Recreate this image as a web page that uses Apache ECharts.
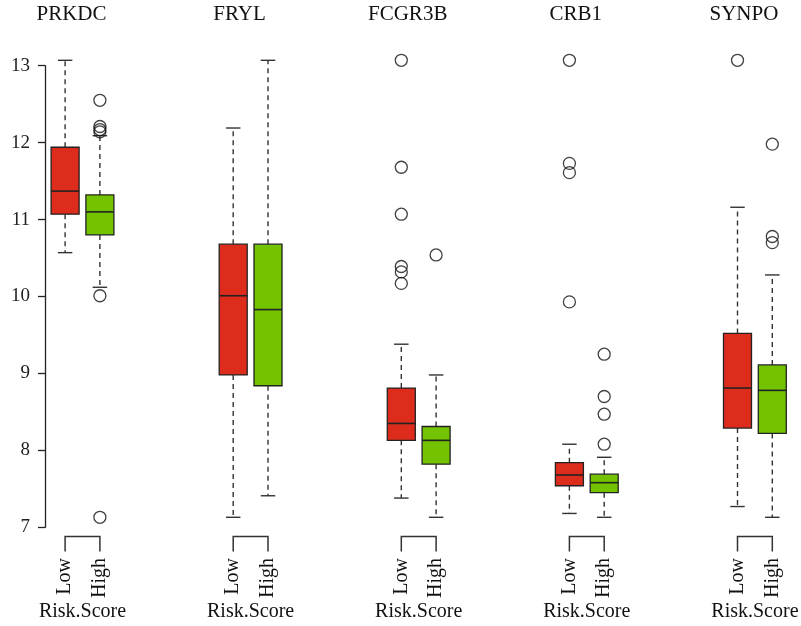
<!DOCTYPE html>
<html><head><meta charset="utf-8">
<script src="https://cdn.jsdelivr.net/npm/echarts@6/dist/echarts.min.js"></script>
<style>html,body{margin:0;padding:0;background:#fff}#c{width:801px;height:626px}</style>
</head><body><div id="c"></div>
<script>
const genes = ['PRKDC', 'FRYL', 'FCGR3B', 'CRB1', 'SYNPO'];
const groups = ['Low', 'High'];
const groupLabel = 'Risk.Score';
const yTicks = [7, 8, 9, 10, 11, 12, 13];
// [lower whisker, Q1, median, Q3, upper whisker]
const lowStats = [
  [10.57, 11.07, 11.37, 11.94, 13.07],
  [7.13, 8.98, 10.01, 10.68, 12.19],
  [7.38, 8.13, 8.35, 8.81, 9.38],
  [7.18, 7.54, 7.68, 7.84, 8.08],
  [7.27, 8.29, 8.81, 9.52, 11.16]
];
const highStats = [
  [10.12, 10.80, 11.10, 11.32, 12.09],
  [7.41, 8.84, 9.83, 10.68, 13.07],
  [7.13, 7.82, 8.13, 8.31, 8.98],
  [7.13, 7.45, 7.58, 7.69, 7.91],
  [7.13, 8.22, 8.78, 9.11, 10.28]
];
const lowOutliers = [[], [], [13.07, 11.68, 11.07, 10.39, 10.32, 10.17], [13.07, 11.73, 11.61, 9.93], [13.07]];
const highOutliers = [[12.55, 12.21, 12.17, 12.14, 10.01, 7.13], [], [10.54], [9.25, 8.70, 8.47, 8.08], [11.98, 10.78, 10.70]];

const FONT = '"Liberation Serif", "DejaVu Serif", serif';
const HALF_SPACING = 17.4;
const BOX_W = 28;
const CAP_W = 14.5;
const COLORS = ['#DD2C1C', '#73C300'];

const chart = echarts.init(document.getElementById('c'), null, { renderer: 'canvas' });

function boxSeries(name, stats, color, side) {
  return {
    type: 'custom', name: name, clip: false, silent: true,
    data: stats.map((s, i) => [i].concat(s)),
    encode: { x: 0, y: [1, 2, 3, 4, 5] },
    renderItem: function (params, api) {
      const g = api.value(0);
      const cx = api.coord([g, api.value(3)])[0] + side * HALF_SPACING;
      const y = k => api.coord([g, api.value(k)])[1];
      const yMin = y(1), yQ1 = y(2), yMed = y(3), yQ3 = y(4), yMax = y(5);
      const hw = BOX_W / 2, cw = CAP_W / 2;
      const dash = { stroke: '#333', lineWidth: 1.4, lineDash: [5, 4] };
      const solid = { stroke: '#333', lineWidth: 1.4 };
      return {
        type: 'group', children: [
          { type: 'line', shape: { x1: cx, y1: yQ3, x2: cx, y2: yMax }, style: dash },
          { type: 'line', shape: { x1: cx, y1: yQ1, x2: cx, y2: yMin }, style: dash },
          { type: 'line', shape: { x1: cx - cw, y1: yMax, x2: cx + cw, y2: yMax }, style: solid },
          { type: 'line', shape: { x1: cx - cw, y1: yMin, x2: cx + cw, y2: yMin }, style: solid },
          { type: 'rect', shape: { x: cx - hw, y: yQ3, width: BOX_W, height: yQ1 - yQ3 }, style: { fill: color, stroke: '#222', lineWidth: 1.3 } },
          { type: 'line', shape: { x1: cx - hw, y1: yMed, x2: cx + hw, y2: yMed }, style: { stroke: '#222', lineWidth: 1.6 } }
        ]
      };
    }
  };
}

function outlierSeries(name, outs, side) {
  return {
    type: 'scatter', name: name + ' outliers', clip: false, silent: true,
    symbol: 'circle', symbolSize: 12, symbolOffset: [side * HALF_SPACING, 0],
    itemStyle: { color: 'rgba(0,0,0,0)', borderColor: '#111', borderWidth: 1.3 },
    data: outs.flatMap((arr, g) => arr.map(v => [g, v]))
  };
}

chart.setOption({
  animation: false,
  backgroundColor: '#fff',
  grid: { left: 45, right: 11, top: 65.7, bottom: 98.7, containLabel: false },
  xAxis: { type: 'value', min: -0.2231, max: 4.2088, show: false },
  yAxis: {
    type: 'value', min: yTicks[0], max: yTicks[yTicks.length - 1], interval: 1,
    axisLine: { show: true, onZero: false, lineStyle: { color: '#222', width: 1.3 } },
    axisTick: { show: true, length: 7, lineStyle: { color: '#222', width: 1.3 } },
    axisLabel: { color: '#222', fontSize: 19, fontFamily: FONT, margin: 15 },
    splitLine: { show: false }
  },
  series: [
    boxSeries(groups[0], lowStats, COLORS[0], -1),
    boxSeries(groups[1], highStats, COLORS[1], 1),
    outlierSeries(groups[0], lowOutliers, -1),
    outlierSeries(groups[1], highOutliers, 1)
  ]
});

const graphics = [];
genes.forEach((gene, g) => {
  const cx = chart.convertToPixel({ xAxisIndex: 0 }, g);
  const xl = cx - HALF_SPACING, xh = cx + HALF_SPACING;
  graphics.push({
    type: 'text', x: cx - 11, y: 14,
    style: { text: gene, font: '21px ' + FONT, fill: '#111', align: 'center', verticalAlign: 'middle' }
  });
  graphics.push({
    type: 'polyline',
    shape: { points: [[xl, 551.5], [xl, 536.5], [xh, 536.5], [xh, 551.5]] },
    style: { stroke: '#333', lineWidth: 1.5, fill: null }
  });
  [xl, xh].forEach((x, k) => {
    graphics.push({
      type: 'text', x: x, y: 558, rotation: Math.PI / 2,
      style: { text: groups[k], font: '20px ' + FONT, fill: '#111', align: 'right', verticalAlign: 'middle' }
    });
  });
  graphics.push({
    type: 'text', x: cx, y: 612,
    style: { text: groupLabel, font: '20px ' + FONT, fill: '#111', align: 'center', verticalAlign: 'middle' }
  });
});
chart.setOption({ graphic: graphics });
</script>
</body></html>
